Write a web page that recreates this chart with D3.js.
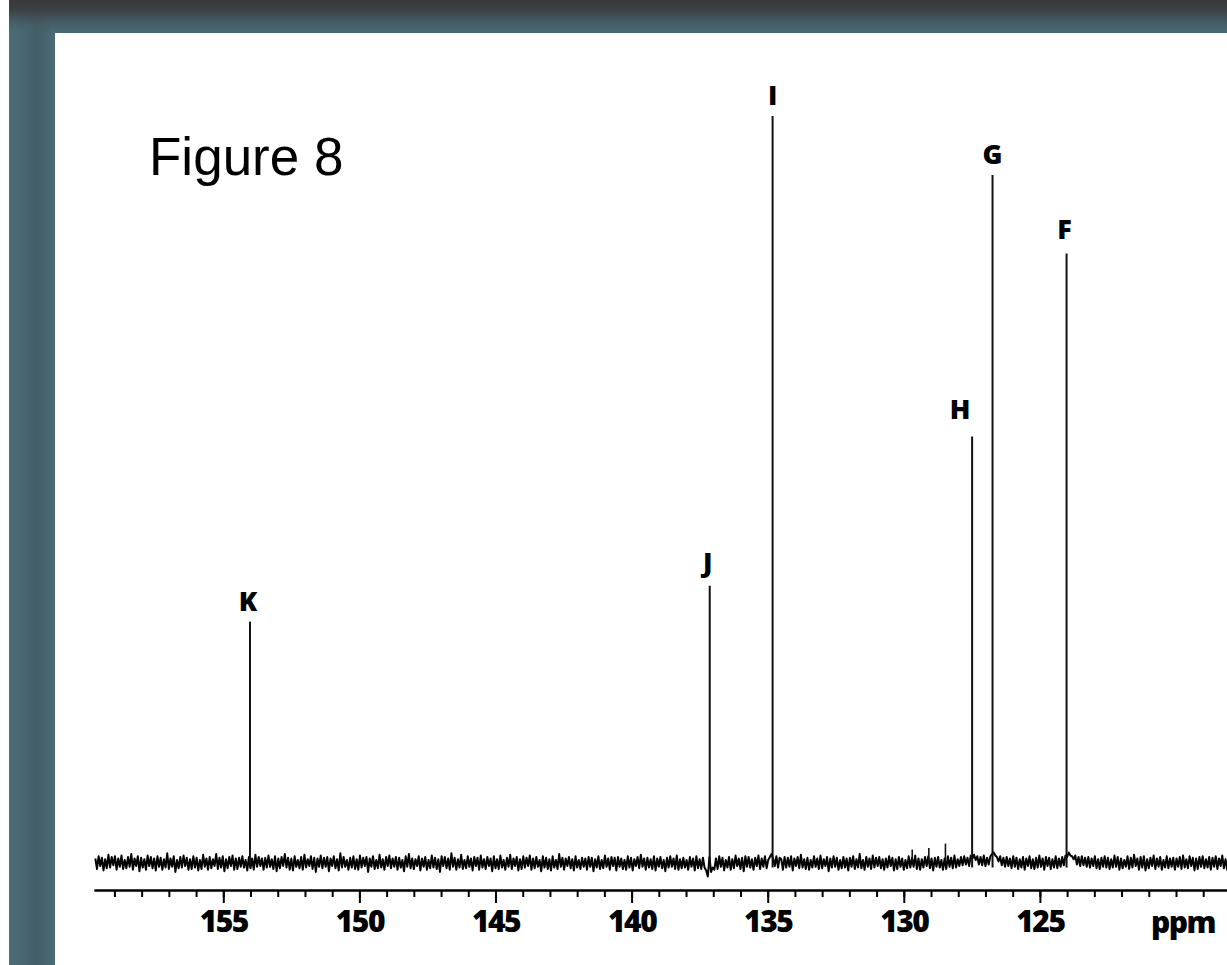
<!DOCTYPE html>
<html>
<head>
<meta charset="utf-8">
<script src="https://cdn.jsdelivr.net/npm/d3@7"></script>
<style>
  html, body { margin: 0; padding: 0; background: #ffffff; }
  svg { display: block; }
</style>
</head>
<body>
<svg id="chart" width="1227" height="965"></svg>
<script>
// 13C spectrum, chemical shift in ppm
const peakNames = ["K", "J", "I", "H", "G", "F"];
const peakShifts = [154.02, 137.13, 134.82, 127.49, 126.74, 124.02];
const peakHeights = [323, 371, 1000, 571, 921, 816];

// weak unlabelled signals
const minorShifts = [129.69, 129.08, 128.47];
const minorHeights = [18, 20, 26];

// baseline noise, sampled from 159.7 ppm towards high field
const noiseStart = 159.7;
const noiseStep = 0.06;
const noise = [
  6,-8,9,-4,7,-10,5,-7,11,-6,8,-3,9,-9,6,-5,10,-8,4,-7,
  8,-5,12,-9,6,-4,9,-11,7,-6,5,-9,10,-4,8,-7,6,-10,9,-5,
  7,-9,5,-6,13,-8,6,-5,9,-12,4,-7,8,-6,10,-4,7,-9,5,-8,
  9,-6,7,-10,4,-8,11,-5,6,-9,8,-7,5,-4,12,-8,7,-6,9,-11,
  5,-7,8,-4,10,-9,6,-8,7,-5,9,-6,4,-10,8,-7,6,-9,11,-5,
  8,-4,6,-9,7,-6,10,-5,5,-8,9,-11,6,-7,8,-4,12,-6,7,-9,
  6,-10,9,-5,4,-7,8,-9,11,-6,5,-4,9,-8,7,-12,6,-5,10,-7,
  7,-5,8,-11,6,-4,9,-7,5,-10,13,-6,8,-5,4,-9,7,-6,9,-8,
  5,-9,10,-6,7,-4,8,-12,6,-5,9,-8,4,-7,11,-6,5,-9,8,-4,
  10,-7,6,-5,8,-9,7,-6,4,-11,9,-5,12,-7,6,-8,5,-4,9,-10,
  6,-5,8,-9,4,-7,10,-6,7,-8,5,-12,9,-4,8,-7,6,-9,13,-5,
  7,-9,5,-6,11,-8,4,-7,9,-5,6,-10,8,-4,7,-9,10,-6,5,-8,
  8,-4,6,-11,9,-7,5,-8,10,-6,4,-9,7,-5,11,-8,6,-4,8,-10,
  5,-8,9,-6,7,-4,10,-9,6,-7,8,-5,4,-11,9,-6,7,-8,5,-10,
  9,-6,4,-8,12,-5,7,-9,6,-4,8,-7,5,-10,9,-6,4,-8,7,-5,
  6,-9,8,-5,7,-11,5,-6,9,-8,4,-7,10,-5,6,-9,8,-4,7,-10,
  8,-5,6,-8,4,-9,9,-6,7,-10,5,-4,8,-7,11,-5,6,-9,7,-6,
  5,-8,9,-10,6,-5,8,-7,4,-11,7,-6,9,-5,6,-8,10,-9,5,-7,
  7,-6,4,-9,8,-5,6,-10,9,-7,5,-8,7,-6,-10,-18,8,-12,-6,-9,
  6,-8,9,-5,7,-10,4,-6,8,-9,5,-7,10,-4,6,-8,7,-11,9,-5,
  8,-6,5,-9,7,-4,10,-8,6,-5,9,-7,4,8,12,6,-4,9,-6,7,
  5,-9,8,-6,7,-5,9,-10,6,-4,8,-7,11,-6,5,-8,7,-9,4,-6,
  9,-5,6,-8,10,-7,5,-4,8,-11,6,-6,9,-5,7,-9,4,-7,8,-6,
  6,-10,7,-5,9,-8,5,-6,12,-7,4,-9,8,-5,6,-8,10,-6,7,-4,
  8,-7,5,-9,6,-6,9,-4,7,-10,5,-8,8,-5,6,-9,4,-7,9,-6,
  7,-5,10,-8,6,-9,5,-6,8,-4,9,-7,6,-10,7,-5,8,-6,4,-9,
  6,-8,9,-5,7,-7,10,-6,5,-4,8,-3,9,-2,7,-4,10,6,11,4,
  9,-2,8,-3,10,-4,7,-2,9,12,14,10,8,2,9,-3,7,-5,8,-4,
  6,-7,9,-5,7,-8,5,-6,8,-9,6,-4,9,-7,5,-8,7,-6,10,-5,
  6,-9,8,-4,7,-8,5,-6,9,-7,6,-5,8,-3,10,8,14,10,9,5,
  10,-2,8,-4,9,-3,7,-5,8,-6,6,-4,9,-7,5,-8,7,-5,9,-6,
  7,-8,5,-6,10,-5,8,-9,6,-7,4,-5,9,-8,7,-6,11,-4,6,-9,
  8,-6,9,-10,5,-7,7,-4,10,-8,6,-5,8,-9,4,-6,9,-7,6,-5,
  7,-9,6,-5,8,-8,10,-6,5,-7,9,-4,7,-10,6,-8,8,-5,9,-7,
  5,-6,8,-9,7,-5,9,-8,6,-4,10,-7,5,-9,8,-6,7,-5,9,-8
];

// axis ticks
const majorTicks = [155, 150, 145, 140, 135, 130, 125];
const minorTicks = d3.range(159, 117, -1);
const axisUnit = "ppm";
const title = "Figure 8";

const W = 1227, H = 965;
const svg = d3.select("#chart");
const defs = svg.append("defs");

// ---- slide frame ----
const stripGrad = defs.append("linearGradient").attr("id", "strip")
  .attr("x1", "0").attr("x2", "1").attr("y1", "0").attr("y2", "0");
[[0, "#4b6d77"], [0.35, "#476670"], [0.6, "#445f68"], [1, "#4a6b75"]]
  .forEach(([o, c]) => stripGrad.append("stop").attr("offset", o).attr("stop-color", c));

const topGrad = defs.append("linearGradient").attr("id", "topShade")
  .attr("x1", "0").attr("x2", "0").attr("y1", "0").attr("y2", "1");
[[0, "#37393b", 1], [0.3, "#3b4145", 1], [0.75, "#3f5058", 0.3], [1, "#456670", 0]]
  .forEach(([o, c, a]) => topGrad.append("stop").attr("offset", o)
    .attr("stop-color", c).attr("stop-opacity", a));

svg.append("rect").attr("x", 9).attr("y", 0).attr("width", W - 9).attr("height", H)
  .attr("fill", "#466771");
svg.append("rect").attr("x", 9).attr("y", 0).attr("width", 46).attr("height", H)
  .attr("fill", "url(#strip)");
svg.append("rect").attr("x", 9).attr("y", 0).attr("width", W - 9).attr("height", 34)
  .attr("fill", "url(#topShade)");
svg.append("rect").attr("x", 55).attr("y", 33).attr("width", W - 55).attr("height", H - 33)
  .attr("fill", "#ffffff");

// ---- title ----
svg.append("text")
  .attr("x", 149).attr("y", 175)
  .attr("font-family", "'Liberation Sans', Arial, sans-serif")
  .attr("font-size", 53)
  .attr("fill", "#000")
  .text(title);

// ---- scales ----
const x = d3.scaleLinear().domain([159.75, 117.5]).range([94, 94 + 42.25 * 27.22]);
const y = d3.scaleLinear().domain([0, 1000]).range([863, 116]);
const axisY = 890;

const tickFont = "'Open Sans', 'DejaVu Sans', sans-serif";

// ---- spectrum baseline ----
const noisePts = noise.map((v, i) => [noiseStart - i * noiseStep, v]);
svg.append("path")
  .datum(noisePts)
  .attr("d", d3.line().x(d => x(d[0])).y(d => y(d[1])))
  .attr("fill", "none")
  .attr("stroke", "#000")
  .attr("stroke-width", 2)
  .attr("stroke-linejoin", "round");

// ---- signals ----
const minor = minorShifts.map((s, i) => ({ s, h: minorHeights[i] }));
svg.append("g").selectAll("line").data(minor).join("line")
  .attr("x1", d => x(d.s)).attr("x2", d => x(d.s))
  .attr("y1", y(0)).attr("y2", d => y(d.h))
  .attr("stroke", "#111").attr("stroke-width", 1.6);

const peaks = peakNames.map((n, i) => ({ n, s: peakShifts[i], h: peakHeights[i] }));
svg.append("g").selectAll("line").data(peaks).join("line")
  .attr("x1", d => x(d.s)).attr("x2", d => x(d.s))
  .attr("y1", y(-6)).attr("y2", d => y(d.h))
  .attr("stroke", "#111").attr("stroke-width", 2);

// peak letters; H sits left of its line to clear G
const labelDx = { H: -12, K: -2, J: -2, F: -2 };
const labelGap = { H: 17, F: 14, J: 14 };
svg.append("g").selectAll("text").data(peaks).join("text")
  .attr("x", d => x(d.s) + (labelDx[d.n] || 0))
  .attr("y", d => y(d.h) - (labelGap[d.n] || 11))
  .attr("text-anchor", "middle")
  .attr("font-family", tickFont)
  .attr("font-weight", 800)
  .attr("font-size", 27)
  .attr("fill", "#000")
  .text(d => d.n);

// ---- axis ----
const minorAxis = d3.axisBottom(x).tickValues(minorTicks)
  .tickSize(7).tickSizeOuter(0).tickFormat("");
const majorAxis = d3.axisBottom(x).tickValues(majorTicks)
  .tickSize(13).tickSizeOuter(0).tickPadding(8).tickFormat(d3.format("d"));

const gMinor = svg.append("g").attr("transform", `translate(0,${axisY})`).call(minorAxis);
const gMajor = svg.append("g").attr("transform", `translate(0,${axisY})`).call(majorAxis);
[gMinor, gMajor].forEach(g => {
  g.selectAll("path.domain").attr("stroke", "#000").attr("stroke-width", 2);
  g.selectAll(".tick line").attr("stroke", "#000").attr("stroke-width", 2);
});
gMajor.selectAll(".tick text")
  .attr("font-family", tickFont)
  .attr("font-weight", 800)
  .attr("font-size", 30)
  .attr("letter-spacing", -1.5)
  .attr("fill", "#000");

svg.append("text")
  .attr("x", 1151).attr("y", 933)
  .attr("font-family", tickFont)
  .attr("font-weight", 800)
  .attr("font-size", 30)
  .attr("letter-spacing", -1.5)
  .attr("fill", "#000")
  .text(axisUnit);
</script>
</body>
</html>
